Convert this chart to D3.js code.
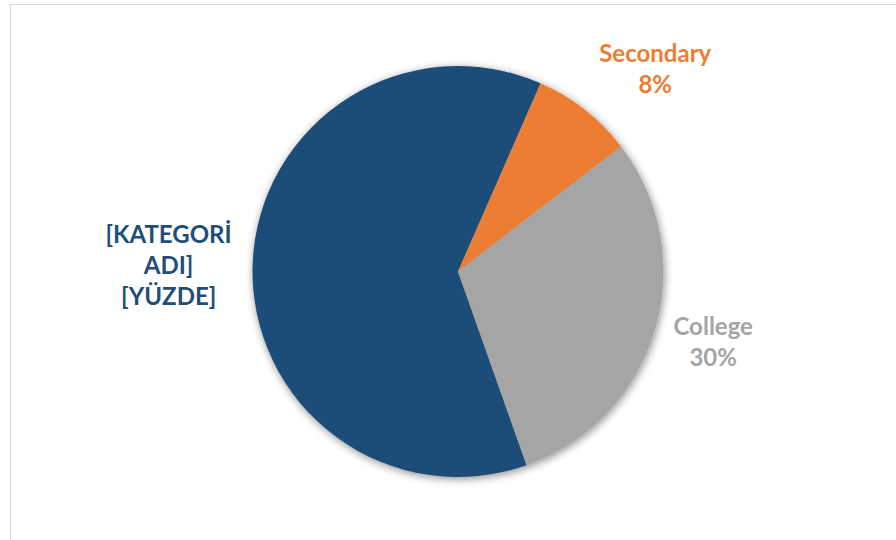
<!DOCTYPE html>
<html>
<head>
<meta charset="utf-8">
<script src="https://cdn.jsdelivr.net/npm/d3@7"></script>
<style>
  html, body { margin: 0; padding: 0; background: #ffffff; }
  svg { display: block; }
  text { font-family: Lato, "Open Sans", sans-serif; font-weight: 700; }
</style>
</head>
<body>
<svg id="chart" width="896" height="540"></svg>
<script>
// Education level shares
const categories = ["[KATEGORİ ADI]", "Secondary", "College"];
const values = [62, 8, 30];
// Label lines for the category name; the first one keeps its placeholder fields
const nameLines = [["[KATEGORİ", "ADI]"], ["Secondary"], ["College"]];
const percentPlaceholders = ["[YÜZDE]", null, null];
const colors = ["#1F4E79", "#ED7D31", "#A5A5A5"];

const W = 896, H = 540;
const cx = 458, cy = 271.5, R = 205.5;
const startDeg = 160.5;
const lineH = 31, fontSize = 24, capH = 17;
const labelGap = 15;
// small hand nudges applied after the best-fit placement
const labelNudge = { "[KATEGORİ ADI]": [-6, 4], "Secondary": [5, -10], "College": [4, 1] };

const svg = d3.select("#chart");

// chart frame
svg.append("rect")
  .attr("x", 10.5).attr("y", 4.5)
  .attr("width", W + 20).attr("height", H + 20)
  .attr("fill", "#ffffff")
  .attr("stroke", "#d9d9d9").attr("stroke-width", 1);

const defs = svg.append("defs");
const f = defs.append("filter").attr("id", "pieShadow")
  .attr("x", "-10%").attr("y", "-10%").attr("width", "120%").attr("height", "120%");
f.append("feGaussianBlur").attr("in", "SourceAlpha").attr("stdDeviation", 4).attr("result", "b");
f.append("feOffset").attr("in", "b").attr("dx", 1).attr("dy", 2).attr("result", "o");
f.append("feComponentTransfer").attr("in", "o").attr("result", "s")
  .append("feFuncA").attr("type", "linear").attr("slope", 0.45);
const m = f.append("feMerge");
m.append("feMergeNode").attr("in", "s");
m.append("feMergeNode").attr("in", "SourceGraphic");

const total = d3.sum(values);
const rows = categories.map((c, i) => ({ category: c, value: values[i], color: colors[i], i }));

const pie = d3.pie()
  .value(d => d.value)
  .sort(null)
  .startAngle(startDeg * Math.PI / 180)
  .endAngle(startDeg * Math.PI / 180 + 2 * Math.PI);

const arc = d3.arc().innerRadius(0).outerRadius(R);
const arcs = pie(rows);

const g = svg.append("g").attr("transform", `translate(${cx},${cy})`);
g.append("g").attr("filter", "url(#pieShadow)")
  .selectAll("path")
  .data(arcs)
  .join("path")
  .attr("d", arc)
  .attr("fill", d => d.data.color);

const pct = d3.format(".0%");

// data labels placed outside each slice (best-fit style)
arcs.forEach(a => {
  const d = a.data;
  const lines = nameLines[d.i].concat([percentPlaceholders[d.i] ?? pct(d.value / total)]);
  const t = svg.append("text")
    .attr("text-anchor", "middle")
    .attr("font-size", fontSize)
    .attr("fill", d.color);
  lines.forEach((s, k) => t.append("tspan").attr("x", 0).attr("y", k * lineH).text(s));

  const bb = t.node().getBBox();
  const w = bb.width, h = (lines.length - 1) * lineH + capH;
  const mid = (a.startAngle + a.endAngle) / 2;
  const sx = Math.sin(mid), sy = -Math.cos(mid);
  const px = cx + sx * (R + labelGap), py = cy + sy * (R + labelGap);
  const nudge = labelNudge[d.category] || [0, 0];
  const bx = px + Math.sign(sx) * w / 2 + nudge[0];
  const by = py + sy * h / 2 + nudge[1];
  const firstBaseline = by - h / 2 + capH;
  t.selectAll("tspan").attr("x", bx).attr("y", (s, k) => firstBaseline + k * lineH);
});
</script>
</body>
</html>
